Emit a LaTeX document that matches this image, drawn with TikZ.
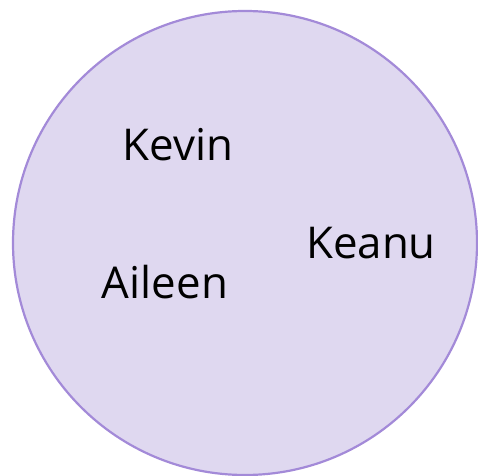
\documentclass[tikz,border=0pt]{standalone}
\usepackage{fontspec}
\setmainfont{Open Sans}
\usepackage{xcolor}
\usepackage{tikz}
\definecolor{setfill}{HTML}{DFD8F0}
\definecolor{setline}{HTML}{A38AD8}
\tikzset{
  setc/.style={circle,draw=setline,fill=setfill,line width=2.2bp,minimum size=464bp,inner sep=0pt},
  nm/.style={anchor=base,inner sep=0pt,font=\fontsize{44}{52}\selectfont}
}

\begin{document}
\begin{tikzpicture}[x=1bp,y=-1bp]
\useasboundingbox (0,0) rectangle (478,476);
\node[setc] (set) at (245,243) {};
\node[nm] (kevin) at (178,161) {Kevin};
\node[nm] (keanu) at (371,258) {Keanu};
\node[nm] (aileen) at (165,298) {Aileen};
\end{tikzpicture}
\end{document}
